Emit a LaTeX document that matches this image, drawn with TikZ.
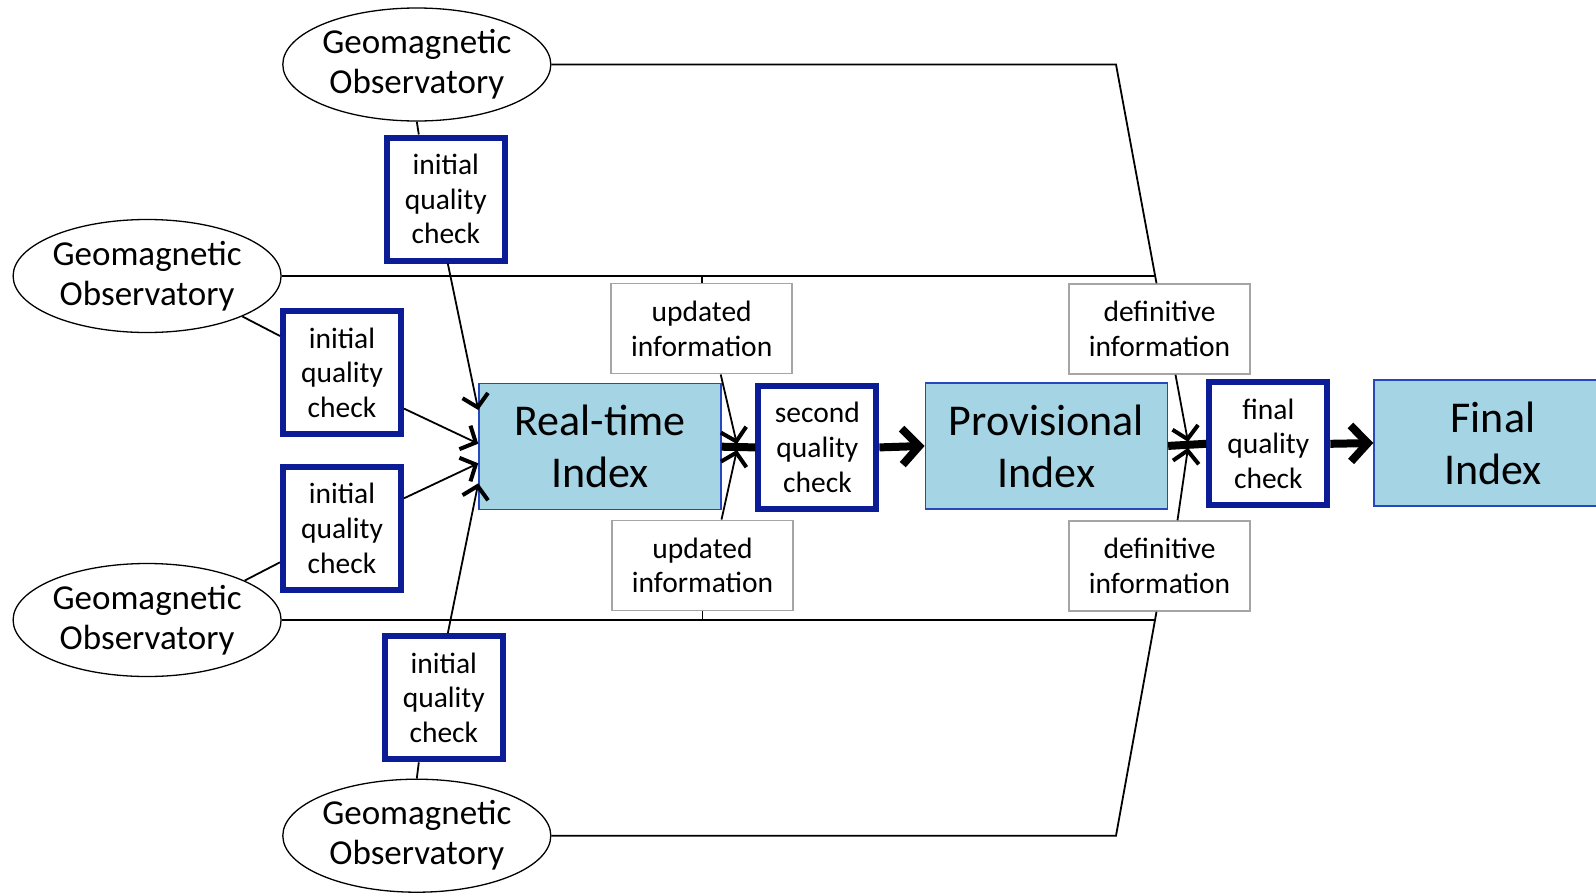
\documentclass[tikz,border=0pt]{standalone}
\usepackage{fontspec}
\setmainfont{Carlito}
\usetikzlibrary{shapes.geometric,arrows.meta,calc}
\definecolor{qblue}{RGB}{12,28,150}
\definecolor{fillblue}{RGB}{165,213,229}
\definecolor{edgeblue}{RGB}{40,70,190}
\definecolor{graybox}{RGB}{165,165,165}
\begin{document}
\begin{tikzpicture}[x=1pt,y=-1pt,
 obs/.style={ellipse, draw, line width=1.3pt, minimum width=268pt, minimum height=113pt, inner sep=0pt, align=center, font=\fontsize{35}{40}\selectfont},
 qc/.style={draw=qblue, line width=6pt, fill=white, minimum width=118pt, minimum height=123pt, inner sep=0pt, align=center, font=\fontsize{29.5}{34.6}\selectfont},
 idx/.style={draw=edgeblue, line width=1.5pt, fill=fillblue, minimum width=242pt, minimum height=126pt, inner sep=0pt, align=center, font=\fontsize{44}{52}\selectfont},
 info/.style={draw=graybox, line width=1.5pt, fill=white, minimum width=181pt, minimum height=90pt, inner sep=0pt, align=center, font=\fontsize{29.5}{34.6}\selectfont},
 conn/.style={line width=1.8pt},
 arr/.style={conn, -{Straight Barb[length=12pt,width=26pt,line width=4pt]}},
 thk/.style={line width=8pt},
 tarr/.style={thk, -{Straight Barb[length=17pt,width=36pt]}},
]
\clip (0,0) rectangle (1596,892);
\fill[white] (0,0) rectangle (1596,892);

% observatories
\node[obs] (o1) at (416.8,64.5) {Geomagnetic\\Observatory};
\node[obs] (o2) at (147.1,276) {Geomagnetic\\Observatory};
\node[obs] (o3) at (147.1,620) {Geomagnetic\\Observatory};
\node[obs] (o4) at (416.8,835.7) {Geomagnetic\\Observatory};

% info boxes
\node[info] (u1) at (701.7,328.7) {updated\\information};
\node[info] (u2) at (702.5,565.3) {updated\\information};
\node[info] (d1) at (1159.5,329) {definitive\\information};
\node[info] (d2) at (1159.5,566) {definitive\\information};

% bend points
\coordinate (tb) at (1116,64.5);
\coordinate (bb) at (1116,835.7);
\coordinate (m1) at (1154.8,276);
\coordinate (m2) at (1155,620);

% long lines
\draw[conn] (o1.east) -- (tb) -- ([xshift=-3pt]d1.north);
\draw[conn] (o4.east) -- (bb) -- ([xshift=-3pt]d2.south);
\draw[conn] (o2.east) -- (m1);
\draw[conn] (o3.east) -- (m2);
\draw[conn] (u1.north) -- (u1.north |- o2.east);
\draw[conn] (u2.south) -- (u2.south |- o3.east);

% quality checks
\node[qc] (q1) at (445.8,199) {initial\\quality\\check};
\node[qc] (q2) at (342,372.6) {initial\\quality\\check};
\node[qc] (q3) at (342,528.3) {initial\\quality\\check};
\node[qc] (q4) at (443.8,697.8) {initial\\quality\\check};
\node[qc] (sq) at (817.4,447.4) {second\\quality\\check};
\node[qc] (fq) at (1268.3,443.8) {final\\quality\\check};

% indices
\node[idx] (rt) at (600,446.7) {Real-time\\Index};
\node[idx] (pv) at (1046.4,445.9) {Provisional\\Index};
\node[idx, minimum width=238pt] (fi) at (1493,443) {Final\\Index};

% observatory to initial checks
\draw[conn] (o1.south) -- ([xshift=-27pt]q1.north);
\draw[conn] (o2.-23) -- ([yshift=36.6pt]q2.west);
\draw[conn] (o3.22) -- ([yshift=-34pt]q3.west);
\draw[conn] (o4.north) -- ([xshift=-25pt]q4.south);

% initial checks to real-time index
\draw[arr] ([xshift=2pt]q1.south) -- ([yshift=36.7pt]rt.west);
\draw[arr] ([yshift=-36pt]q2.east) -- ([yshift=3pt]rt.west);
\draw[arr] ([yshift=30pt]q3.east) -- ([yshift=-16.6pt]rt.west);
\draw[arr] ([xshift=4pt]q4.north) -- ([yshift=-36.6pt]rt.west);

% junctions
\coordinate (j1) at ($(rt.east)!0.45!(sq.west)$);
\coordinate (j2) at ($(pv.east)!0.52!(fq.west)$);

\draw[thk] (rt.east) -- (sq.west);
\draw[tarr] (sq.east) -- (pv.west);
\draw[thk] (pv.east) -- (fq.west);
\draw[tarr] (fq.east) -- (fi.west);

\draw[arr] ([xshift=19pt]u1.south) -- ([yshift=3pt]j1);
\draw[arr] ([xshift=19pt]u2.north) -- ([yshift=-3pt]j1);
\draw[arr] ([xshift=16pt]d1.south) -- ([yshift=3pt]j2);
\draw[arr] ([xshift=18pt]d2.north) -- ([yshift=-3pt]j2);
\end{tikzpicture}
\end{document}
